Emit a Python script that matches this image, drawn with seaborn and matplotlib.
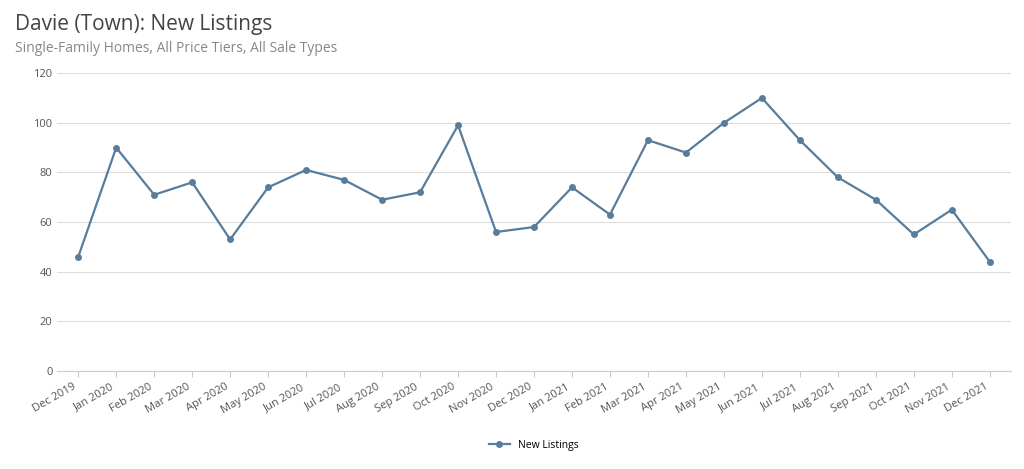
import matplotlib
matplotlib.use("Agg")
import matplotlib.pyplot as plt
import seaborn as sns
import pandas as pd

months = ["Dec 2019","Jan 2020","Feb 2020","Mar 2020","Apr 2020","May 2020","Jun 2020","Jul 2020",
          "Aug 2020","Sep 2020","Oct 2020","Nov 2020","Dec 2020","Jan 2021","Feb 2021","Mar 2021",
          "Apr 2021","May 2021","Jun 2021","Jul 2021","Aug 2021","Sep 2021","Oct 2021","Nov 2021","Dec 2021"]
new_listings = [46,90,71,76,53,74,81,77,69,72,99,56,58,74,63,93,88,100,110,93,78,69,55,65,44]
yticks = [0,20,40,60,80,100,120]

plt.rcParams["font.family"] = "Open Sans"
df = pd.DataFrame({"month": months, "x": range(len(months)), "New Listings": new_listings})

fig = plt.figure(figsize=(10.24, 4.69), dpi=100)
ax = fig.add_axes([0.056, 0.209, 0.931, 0.635])
color = "#587c9b"
sns.lineplot(data=df, x="x", y="New Listings", ax=ax, color=color, linewidth=1.6,
             marker="o", markersize=5, markeredgewidth=0, label="New Listings")
ax.set_xlim(-0.55, len(months) - 0.45)
ax.set_ylim(0, 120)
ax.set_yticks(yticks)
ax.set_xticks(range(len(months)))
ax.set_xticklabels(months, rotation=30, ha="right", fontsize=8, color="#555555")
ax.tick_params(axis="y", labelsize=8, labelcolor="#555555", length=0)
ax.tick_params(axis="x", length=4, color="#cccccc")
ax.grid(axis="y", color="#dddddd", linewidth=0.8)
ax.set_axisbelow(True)
for s in ["top", "right", "left"]:
    ax.spines[s].set_visible(False)
ax.spines["bottom"].set_color("#cccccc")
ax.set_xlabel("")
ax.set_ylabel("")
ax.legend(loc="upper center", bbox_to_anchor=(0.5, -0.2), frameon=False, fontsize=7.5)
fig.text(0.015, 0.935, "Davie (Town): New Listings", fontsize=15, color="#444444")
fig.text(0.015, 0.89, "Single-Family Homes, All Price Tiers, All Sale Types", fontsize=10, color="#888888")
fig.savefig("out.png", dpi=100)
